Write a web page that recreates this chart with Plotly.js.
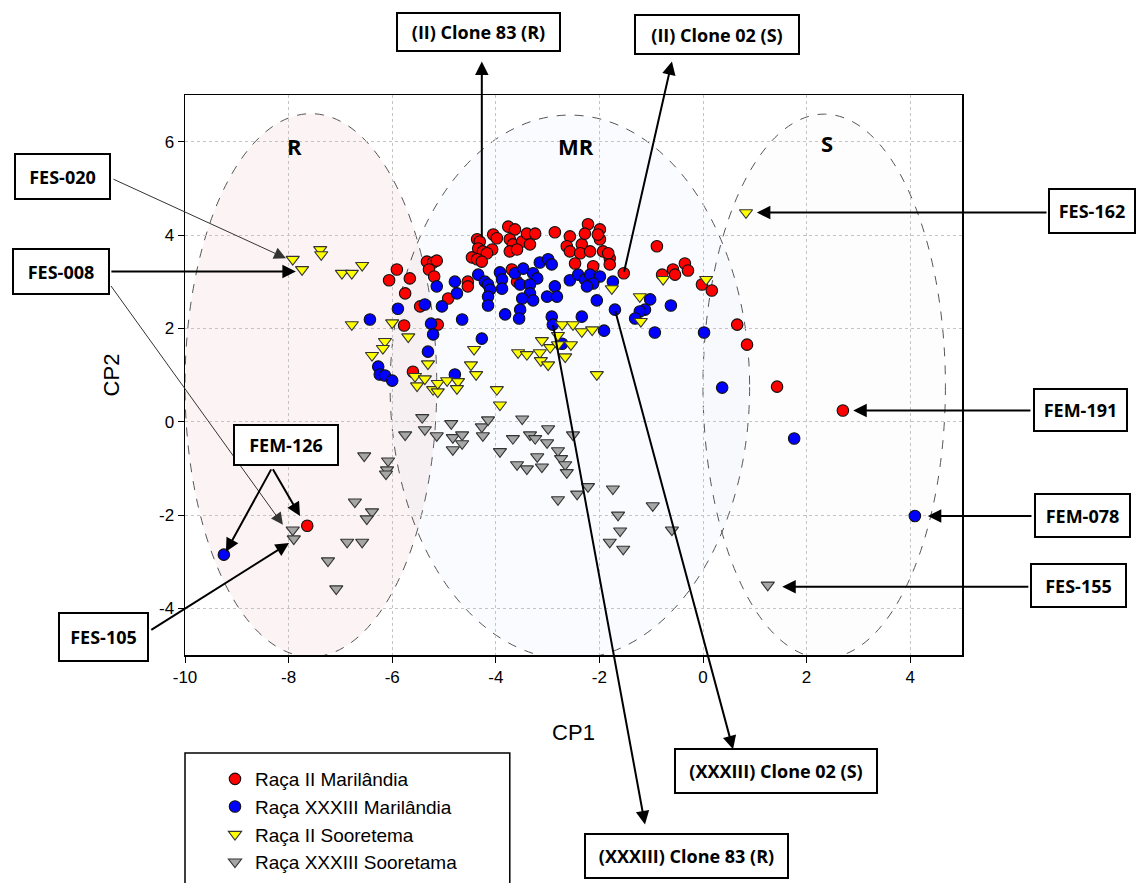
<!DOCTYPE html>
<html>
<head>
<meta charset="utf-8">
<script src="https://cdn.plot.ly/plotly-3.0.1.min.js"></script>
<style>html,body{margin:0;padding:0;background:#fff;}#chart{width:1145px;height:883px;}</style>
</head>
<body>
<div id="chart"></div>
<script>
// ---- Data (CP1, CP2) ----
const seriesNames = ["Raça II Marilândia", "Raça XXXIII Marilândia", "Raça II Sooretema", "Raça XXXIII Sooretama"];

const racaIIMarilandia = [
  [-6.06,3.03],[-5.91,3.26],[-5.66,3.07],[-5.75,2.75],[-5.77,2.06],[-5.60,1.07],[-5.46,2.47],[-5.33,3.43],
  [-5.21,3.41],[-5.14,3.45],[-5.29,3.26],[-5.19,3.11],[-5.12,2.08],[-4.92,2.64],[-4.54,3.00],[-4.54,2.90],
  [-4.36,3.91],[-4.31,3.86],[-4.34,3.71],[-4.25,3.65],[-4.05,4.01],[-3.98,3.93],[-4.07,3.69],[-4.17,3.61],
  [-4.46,3.52],[-4.36,3.48],[-4.27,3.43],[-3.76,4.18],[-3.63,4.12],[-3.73,3.91],[-3.67,3.80],[-3.49,3.86],
  [-3.40,4.03],[-3.24,4.03],[-3.34,3.80],[-3.73,3.65],[-3.59,3.69],[-3.69,3.26],[-3.59,3.00],[-2.86,4.06],
  [-2.57,3.97],[-2.63,3.76],[-2.57,3.65],[-2.34,3.80],[-2.37,3.61],[-2.18,3.65],[-2.47,3.39],[-2.12,3.33],
  [-2.22,4.23],[-2.28,4.03],[-1.99,4.12],[-1.99,3.91],[-2.03,4.01],[-1.93,3.65],[-1.80,3.50],[-1.83,3.61],
  [-1.80,3.37],[-1.53,3.18],[-0.89,3.76],[-0.79,3.15],[-0.58,3.26],[-0.54,3.15],[-0.35,3.39],[-0.29,3.24],
  [-0.02,2.94],[0.17,2.81],[0.66,2.08],[0.85,1.65],[1.43,0.75],[2.70,0.24],[-7.64,-2.23]
];

const racaXXXIIIMarilandia = [
  [-9.25,-2.85],[-6.43,2.19],[-6.27,1.18],[-6.24,1.01],[-6.14,0.99],[-6.00,0.88],[-5.89,2.42],[-5.37,2.51],
  [-5.25,2.10],[-5.21,1.87],[-5.31,1.50],[-5.14,2.90],[-5.04,2.47],[-4.79,3.00],[-4.75,2.75],[-4.65,2.19],
  [-4.79,1.01],[-4.34,3.15],[-4.21,3.00],[-4.15,2.94],[-4.11,2.83],[-4.15,2.68],[-4.15,2.49],[-3.92,3.20],
  [-3.88,3.05],[-3.88,2.85],[-3.63,3.18],[-3.47,3.28],[-3.28,3.18],[-3.20,3.07],[-3.53,2.94],[-3.34,2.94],
  [-3.34,2.75],[-3.49,2.64],[-3.28,2.60],[-3.15,3.41],[-2.99,3.48],[-2.92,3.37],[-2.86,2.90],[-3.01,2.68],
  [-2.82,2.68],[-3.82,2.30],[-3.53,2.40],[-3.55,2.21],[-4.27,1.78],[-2.92,2.25],[-2.90,2.08],[-2.34,2.25],
  [-2.57,3.03],[-2.41,3.15],[-2.28,3.05],[-2.18,3.15],[-1.99,3.11],[-2.12,2.96],[-2.24,2.90],[-2.05,2.60],
  [-1.74,3.00],[-1.70,2.40],[-1.91,1.95],[-1.02,2.62],[-1.12,2.40],[-1.22,2.36],[-1.31,2.21],[-0.62,2.49],
  [-0.93,1.91],[0.02,1.91],[0.37,0.73],[1.76,-0.36],[4.09,-2.02],[-2.72,1.67]
];

const racaIISooretema = [
  [-7.92,3.48],[-7.74,3.26],[-7.39,3.69],[-7.37,3.58],[-6.97,3.18],[-6.78,3.18],[-6.58,3.35],[-6.78,2.08],
  [-6.00,2.12],[-5.69,1.82],[-6.14,1.72],[-6.18,1.57],[-6.39,1.42],[-5.31,1.24],[-5.56,0.97],[-5.37,0.92],
  [-5.52,0.77],[-5.21,0.69],[-5.12,0.64],[-5.12,0.82],[-4.94,0.88],[-4.73,0.86],[-4.75,0.71],[-4.42,1.55],
  [-4.48,1.22],[-4.38,1.01],[-3.98,0.69],[-3.92,0.36],[-3.57,1.48],[-3.40,1.44],[-3.15,1.48],[-3.13,1.31],
  [-2.99,1.22],[-3.11,1.74],[-2.95,1.59],[-2.80,1.85],[-2.80,1.65],[-2.55,1.65],[-2.66,1.39],[-2.72,2.08],
  [-2.51,2.08],[-2.34,1.93],[-2.14,1.97],[-2.05,1.01],[-1.76,2.85],[-1.22,2.68],[-1.20,2.15],[-0.77,3.05],
  [0.06,3.05],[0.83,4.48]
];

const racaXXXIIISooretama = [
  [-5.42,0.09],[-5.37,-0.17],[-5.75,-0.28],[-5.14,-0.30],[-4.86,-0.04],[-4.83,-0.34],[-4.65,-0.28],[-4.65,-0.47],
  [-4.83,-0.60],[-4.27,-0.11],[-4.25,-0.30],[-4.15,0.04],[-3.92,-0.64],[-3.67,-0.36],[-3.49,0.06],[-3.34,-0.28],
  [-3.24,-0.36],[-2.99,-0.15],[-3.01,-0.45],[-3.59,-0.92],[-3.40,-1.01],[-3.20,-0.75],[-3.11,-0.97],[-2.80,-0.62],
  [-2.74,-0.79],[-2.66,-0.92],[-2.63,-1.09],[-2.51,-0.28],[-2.80,-1.67],[-2.43,-1.55],[-2.22,-1.39],[-1.74,-1.44],
  [-1.64,-2.00],[-1.60,-2.34],[-1.80,-2.58],[-1.54,-2.73],[-0.97,-1.80],[-0.60,-2.32],[-6.54,-0.73],[-6.08,-0.84],
  [-6.10,-1.03],[-6.12,-1.12],[-6.72,-1.72],[-6.39,-1.93],[-6.49,-2.08],[-7.92,-2.32],[-7.90,-2.51],[-6.87,-2.58],
  [-6.58,-2.58],[-7.24,-2.98],[-7.08,-3.58],[1.25,-3.50]
];

const xTickVals = [-10,-8,-6,-4,-2,0,2,4];
const yTickVals = [-4,-2,0,2,4,6];

// Group ellipses (centre x, centre y, half-width, half-height) and labels
const groupLabels = ["R", "MR", "S"];
const groupEllipses = [[-7.57,0.78,2.43,5.82],[-2.57,0.74,3.47,5.83],[2.34,0.76,2.34,5.83]];

// ---- Build ----
const markerLine = {color:"#111", width:1.1};
const series = [racaIIMarilandia, racaXXXIIIMarilandia, racaIISooretema, racaXXXIIISooretama];
const styles = [
  {symbol:"circle", color:"#ff0000", line:markerLine},
  {symbol:"circle", color:"#0000ff", line:markerLine},
  {symbol:"triangle-down", color:"#ffff00", line:{color:"#333", width:1.1}},
  {symbol:"triangle-down", color:"#a6a6a6", line:{color:"#333", width:1.1}}
];
const traces = series.map((s,i)=>({
  type:"scatter", mode:"markers", name:seriesNames[i],
  x:s.map(p=>p[0]), y:s.map(p=>p[1]),
  marker:Object.assign({size:11.5}, styles[i]),
  cliponaxis:false
}));

const fills = ["rgba(230,150,150,0.10)","rgba(170,195,240,0.07)","rgba(200,205,230,0.03)"];
const shapes = groupEllipses.map((e,i)=>({
  type:"circle", xref:"x", yref:"y", layer:"below",
  x0:e[0]-e[2], x1:e[0]+e[2], y0:e[1]-e[3], y1:e[1]+e[3],
  fillcolor:fills[i], line:{color:"#555", width:1, dash:"dash"}
}));
// legend frame
shapes.push({type:"rect", xref:"paper", yref:"paper", x0:0, x1:0.418, y0:-0.175, y1:-0.45,
  line:{color:"#000", width:1.5}, fillcolor:"rgba(0,0,0,0)"});

const boxFont = {family:"Liberation Sans Narrow, Open Sans, Arial, sans-serif", size:18, color:"#000"};
function box(text, cx, cy, w, h){
  return {text:"<b>"+text+"</b>", xref:"paper", yref:"paper",
    x:(cx-185)/777, y:(655-cy)/560, xanchor:"center", yanchor:"middle",
    showarrow:false, font:boxFont, bgcolor:"#fff", bordercolor:"#000", borderwidth:2, borderpad:0,
    width:w-4, height:h-4, align:"center", valign:"middle"};
}
function arrow(tx, ty, hx, hy, thick){
  return {xref:"x", yref:"y", axref:"x", ayref:"y", x:hx, y:hy, ax:tx, ay:ty, text:"",
    showarrow:true, arrowhead:2, arrowwidth: thick?2:1, arrowsize: thick?1.35:2.4,
    arrowcolor: thick?"#000":"#333", standoff:0, startstandoff:0};
}

const annotations = [
  arrow(-11.41,5.21,-8.05,3.50,false),
  arrow(-11.45,3.22,-7.86,3.22,true),
  arrow(-11.45,2.94,-8.11,-2.21,false),
  arrow(-8.32,-0.99,-9.21,-2.79,true),
  arrow(-8.32,-0.99,-7.78,-2.02,true),
  arrow(-10.68,-4.48,-7.99,-2.60,true),
  arrow(-4.27,3.91,-4.27,7.72,true),
  arrow(-1.53,3.18,-0.60,7.72,true),
  arrow(6.66,4.48,1.04,4.48,true),
  arrow(6.35,0.24,2.90,0.24,true),
  arrow(6.37,-2.02,4.34,-2.02,true),
  arrow(6.31,-3.54,1.53,-3.54,true),
  arrow(-1.70,2.40,0.58,-7.02,true),
  arrow(-2.90,2.10,-1.12,-8.63,true),
  box("FES-020",63,176,97,47),
  box("FES-008",61,271,98,47),
  box("FEM-126",286,445,106,42),
  box("FES-105",103,637,91,50),
  box("(II) Clone 83 (R)",478,32,165,40),
  box("(II) Clone 02 (S)",717,35,166,41),
  box("FES-162",1092,211,88,46),
  box("FEM-191",1080,410,95,44),
  box("FEM-078",1082,515,97,45),
  box("FES-155",1078,585,97,45),
  box("(XXXIII) Clone 02 (S)",776,771,204,46),
  box("(XXXIII) Clone 83 (R)",686,856,205,46)
];
groupLabels.forEach((t,i)=>{
  const pos = [[-7.88,5.90],[-2.45,5.90],[2.39,5.97]][i];
  annotations.push({text:"<b>"+t+"</b>", xref:"x", yref:"y", x:pos[0], y:pos[1], showarrow:false,
    font:{family:"Liberation Sans Narrow, Open Sans, Arial, sans-serif", size:22, color:"#000"}});
});

const tickFont = {family:"Liberation Sans, Arial, sans-serif", size:17, color:"#000"};
const layout = {
  width:1145, height:883,
  margin:{l:185, r:183, t:95, b:228, autoexpand:false},
  paper_bgcolor:"#fff", plot_bgcolor:"#fff",
  showlegend:true,
  legend:{x:0.0386, y:-0.1875, xanchor:"left", yanchor:"top", bgcolor:"rgba(0,0,0,0)", borderwidth:0,
    font:{family:"Liberation Sans, Arial, sans-serif", size:19, color:"#000"}, itemsizing:"trace", tracegroupgap:0},
  xaxis:{range:[-10,5], tickvals:xTickVals, ticktext:xTickVals.map(String), ticks:"outside", ticklen:6, tickcolor:"#000",
    showline:true, mirror:true, linecolor:"#000", linewidth:1.5, showgrid:true, gridcolor:"#c4c4c4", griddash:"dot",
    zeroline:false, tickfont:tickFont, automargin:false,
    title:{text:"CP1", font:{family:"Liberation Sans, Arial, sans-serif", size:22, color:"#000"}, standoff:38}},
  yaxis:{range:[-5,7], tickvals:yTickVals, ticktext:yTickVals.map(String), ticks:"outside", ticklen:6, tickcolor:"#000",
    showline:true, mirror:true, linecolor:"#000", linewidth:1.5, showgrid:true, gridcolor:"#c4c4c4", griddash:"dot",
    zeroline:false, tickfont:tickFont, automargin:false,
    title:{text:"CP2", font:{family:"Liberation Sans, Arial, sans-serif", size:22, color:"#000"}, standoff:33}},
  shapes:shapes,
  annotations:annotations
};
Plotly.newPlot("chart", traces, layout, {displayModeBar:false, staticPlot:true});
</script>
</body>
</html>
